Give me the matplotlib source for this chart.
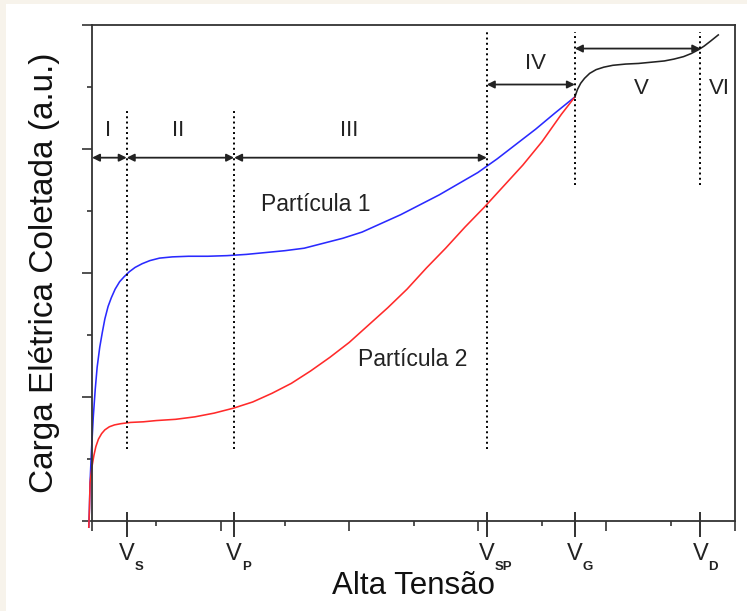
import numpy as np
import matplotlib.pyplot as plt
from matplotlib.patches import Rectangle

plt.rcParams['font.family'] = ['Liberation Sans', 'DejaVu Sans']

# Curves (arbitrary units)
p1_x = [-0.05, -0.04, -0.03, -0.01, 0.02, 0.05, 0.08, 0.12, 0.16, 0.20, 0.25, 0.30, 0.36,
        0.43, 0.50, 0.58, 0.67, 0.78, 0.90, 1.05, 1.25, 1.50, 1.80, 2.10, 2.40, 2.70,
        3.00, 3.30, 3.60, 3.90, 4.20, 4.50, 4.80, 5.10, 5.40, 5.70, 6.00, 6.30, 6.60,
        6.90, 7.20, 7.51]
p1_y = [-0.05, 0.10, 0.31, 0.55, 0.84, 1.06, 1.24, 1.40, 1.52, 1.63, 1.73, 1.80, 1.87,
        1.93, 1.97, 2.01, 2.045, 2.075, 2.10, 2.12, 2.13, 2.135, 2.135, 2.14, 2.15, 2.165,
        2.18, 2.20, 2.24, 2.28, 2.33, 2.40, 2.47, 2.55, 2.63, 2.72, 2.81, 2.92, 3.04,
        3.16, 3.29, 3.42]

p2_x = [-0.05, -0.04, -0.03, 0.00, 0.03, 0.06, 0.10, 0.15, 0.20, 0.27, 0.35, 0.45, 0.60,
        0.80, 1.00, 1.30, 1.60, 1.90, 2.20, 2.50, 2.80, 3.10, 3.40, 3.70, 4.00, 4.30,
        4.60, 4.90, 5.20, 5.50, 5.80, 6.10, 6.40, 6.70, 7.00, 7.30, 7.51]
p2_y = [-0.05, 0.10, 0.31, 0.44, 0.53, 0.60, 0.66, 0.705, 0.735, 0.76, 0.775, 0.785, 0.795,
        0.80, 0.81, 0.82, 0.84, 0.87, 0.91, 0.96, 1.03, 1.11, 1.21, 1.32, 1.44, 1.58,
        1.72, 1.87, 2.04, 2.20, 2.37, 2.53, 2.70, 2.87, 3.06, 3.28, 3.42]

# common part after V_G
sat_x = [7.51, 7.55, 7.60, 7.66, 7.74, 7.84, 7.96, 8.10, 8.30, 8.50, 8.70, 8.90, 9.05,
         9.20, 9.32, 9.43, 9.52, 9.62, 9.74]
sat_y = [3.42, 3.48, 3.53, 3.57, 3.61, 3.64, 3.66, 3.675, 3.685, 3.69, 3.70, 3.71, 3.725,
         3.745, 3.77, 3.80, 3.83, 3.87, 3.92]

v_names = ['S', 'P', 'SP', 'G', 'D']
v_pos = [0.54, 2.21, 6.14, 7.51, 9.46]

fig = plt.figure(figsize=(7.47, 6.11), dpi=100, facecolor='#f7f3eb')
fig.patches.append(Rectangle((6 / 747, 0), 1, 1 - 4 / 611, transform=fig.transFigure,
                             facecolor='white', edgecolor='none', zorder=-1))
ax = fig.add_axes([92 / 747, 90 / 611, 643 / 747, 496 / 611])
ax.set_facecolor('none')

ax.plot(p1_x, p1_y, color='#2a2aff', lw=1.15, clip_on=False)
ax.plot(p2_x, p2_y, color='#ff2a2a', lw=1.15, clip_on=False)
ax.plot(sat_x, sat_y, color='#222222', lw=1.15)

ax.set_xlim(0, 10)
ax.set_ylim(0, 4)
ax.set_xticks(np.arange(0, 11, 2))
ax.set_xticks(np.arange(1, 10, 2), minor=True)
ax.set_yticks(np.arange(0, 5, 1))
ax.set_yticks(np.arange(0.5, 4, 1), minor=True)
ax.tick_params(which='both', direction='out', color='#333333', width=1.2,
               labelbottom=False, labelleft=False)
ax.tick_params(which='major', length=7.5)
ax.tick_params(which='minor', length=3.5)
for s in ax.spines.values():
    s.set_color('#333333')
    s.set_linewidth(1.3)

# V ticks crossing the axis and their labels
ax.vlines(v_pos, -0.13, 0.075, colors='#222222', lw=1.3, clip_on=False)
for name, v in zip(v_names, v_pos):
    ax.annotate('V', xy=(v, 0), xytext=(0, -28), textcoords='offset points',
                ha='center', va='baseline', fontsize=17, color='#222222')
    ax.annotate(name, xy=(v, 0), xytext=(5.5, -35.5), textcoords='offset points',
                ha='left', va='baseline', fontsize=9.5, fontweight='bold', color='#222222')

# region borders
dot = (0, (1, 1.7))
ax.vlines(v_pos[:2], 0.58, 3.32, colors='k', lw=1.4, linestyles=[dot])
ax.vlines(v_pos[2], 0.58, 3.94, colors='k', lw=1.4, linestyles=[dot])
ax.vlines(v_pos[3:], 2.71, 3.94, colors='k', lw=1.4, linestyles=[dot])

# double arrows for the regions
bounds = [0] + v_pos
arrow_y = [2.93, 2.93, 2.93, 3.52, 3.81]
for i in range(5):
    ax.annotate('', xy=(bounds[i + 1], arrow_y[i]), xytext=(bounds[i], arrow_y[i]),
                arrowprops=dict(arrowstyle='<|-|>', color='#222222', lw=1.3,
                                mutation_scale=11, shrinkA=0, shrinkB=0))

regions = ['I', 'II', 'III', 'IV', 'V', 'VI']
reg_x = [0.25, 1.34, 4.0, 6.89, 8.55, 9.75]
reg_y = [3.15, 3.15, 3.15, 3.69, 3.49, 3.49]
for r, x, y in zip(regions, reg_x, reg_y):
    ax.text(x, y, r, ha='center', va='center', fontsize=16, color='#222222')

ax.text(3.48, 2.55, 'Partícula 1', ha='center', va='center', fontsize=16.5, color='#222222')
ax.text(4.99, 1.30, 'Partícula 2', ha='center', va='center', fontsize=16.5, color='#222222')

ax.set_xlabel('Alta Tensão', fontsize=22.5, color='#111111')
ax.xaxis.set_label_coords(0.5, -0.1)
ax.set_ylabel('Carga Elétrica Coletada (a.u.)', fontsize=24, color='#111111')
ax.yaxis.set_label_coords(-0.05, 0.5)

fig.savefig('out.png', dpi=100, facecolor=fig.get_facecolor())
